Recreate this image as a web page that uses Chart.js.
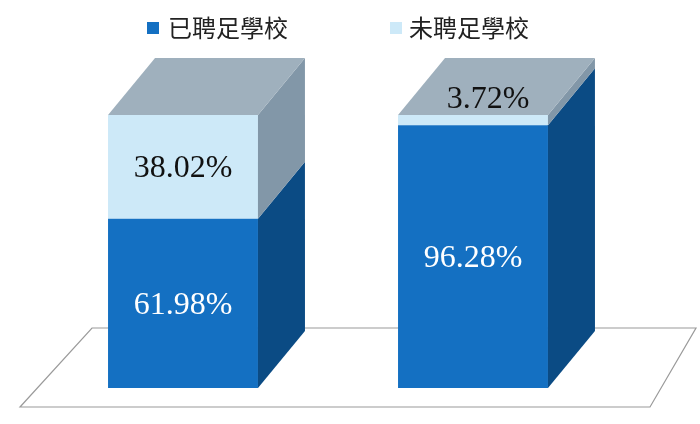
<!DOCTYPE html>
<html><head><meta charset="utf-8">
<script src="https://cdn.jsdelivr.net/npm/chart.js@4"></script>
<style>html,body{margin:0;padding:0;background:#fff}#w{width:700px;height:424px}</style>
</head><body><div id="w"><canvas id="c"></canvas></div>
<script>
const categories = ["A", "B"];
const seriesNames = ["已聘足學校", "未聘足學校"];
const filledValues = [61.98, 96.28];
const unfilledValues = [38.02, 3.72];
const frontColors = ["#1470c2", "#cde9f8"];
const sideColors = ["#0b4b84", "#8297a8"];
const topColor = "#9fb0bd";
const DX = 47, DY = -57;

const plugin3d = {
  id: "p3d",
  beforeDatasetsDraw(chart) {
    const c = chart.ctx;
    c.save();
    c.beginPath();
    c.moveTo(20, 407); c.lineTo(650, 407); c.lineTo(696, 328); c.lineTo(92, 328); c.closePath();
    c.fillStyle = "#fff"; c.fill(); c.strokeStyle = "#9a9a9a"; c.lineWidth = 1.2; c.stroke();
    c.restore();
  },
  afterDatasetsDraw(chart) {
    const c = chart.ctx;
    c.save();
    const n = chart.data.labels.length;
    for (let i = 0; i < n; i++) {
      let topBar = null;
      chart.data.datasets.forEach((ds, d) => {
        const b = chart.getDatasetMeta(d).data[i];
        const r = b.x + b.width / 2, t = b.y, bot = b.base;
        c.beginPath();
        c.moveTo(r, bot); c.lineTo(r + DX, bot + DY); c.lineTo(r + DX, t + DY); c.lineTo(r, t); c.closePath();
        c.fillStyle = sideColors[d]; c.fill();
        if (!topBar || b.y < topBar.y) topBar = b;
      });
      const l = topBar.x - topBar.width / 2, r = topBar.x + topBar.width / 2, t = topBar.y;
      c.beginPath();
      c.moveTo(l, t); c.lineTo(r, t); c.lineTo(r + DX, t + DY); c.lineTo(l + DX, t + DY); c.closePath();
      c.fillStyle = topColor; c.fill();
    }
    // labels
    c.font = "32px 'Liberation Serif', 'DejaVu Serif', serif";
    c.textAlign = "center"; c.textBaseline = "middle";
    chart.data.datasets.forEach((ds, d) => {
      chart.getDatasetMeta(d).data.forEach((b, i) => {
        const v = ds.data[i];
        const txt = v.toFixed(2) + "%";
        let x = b.x, y = (b.y + b.base) / 2;
        if (b.base - b.y < 30) { x = b.x + 15; y = b.y - 17; }
        c.fillStyle = d === 0 ? "#ffffff" : "#111111";
        c.fillText(txt, x, y + 2);
      });
    });
    // legend
    c.font = "24px 'Noto Sans CJK TC', sans-serif";
    c.textAlign = "left";
    const leg = [[147, 168], [390, 409]];
    seriesNames.forEach((s, k) => {
      c.fillStyle = frontColors[k];
      c.fillRect(leg[k][0], 22, 12, 12);
      c.fillStyle = "#222";
      c.fillText(s, leg[k][1], 28);
    });
    c.restore();
  }
};

new Chart(document.getElementById("c"), {
  type: "bar",
  data: {
    labels: categories,
    datasets: [
      { label: seriesNames[0], data: filledValues, backgroundColor: frontColors[0] },
      { label: seriesNames[1], data: unfilledValues, backgroundColor: frontColors[1] }
    ]
  },
  options: {
    responsive: true, maintainAspectRatio: false, animation: false,
    layout: { padding: { left: 38, right: 82, top: 115, bottom: 36 } },
    datasets: { bar: { barPercentage: 1, categoryPercentage: 0.517 } },
    plugins: { legend: { display: false }, tooltip: { enabled: false } },
    scales: {
      x: { stacked: true, display: false },
      y: { stacked: true, display: false, min: 0, max: 100 }
    }
  },
  plugins: [plugin3d]
});
</script></body></html>
